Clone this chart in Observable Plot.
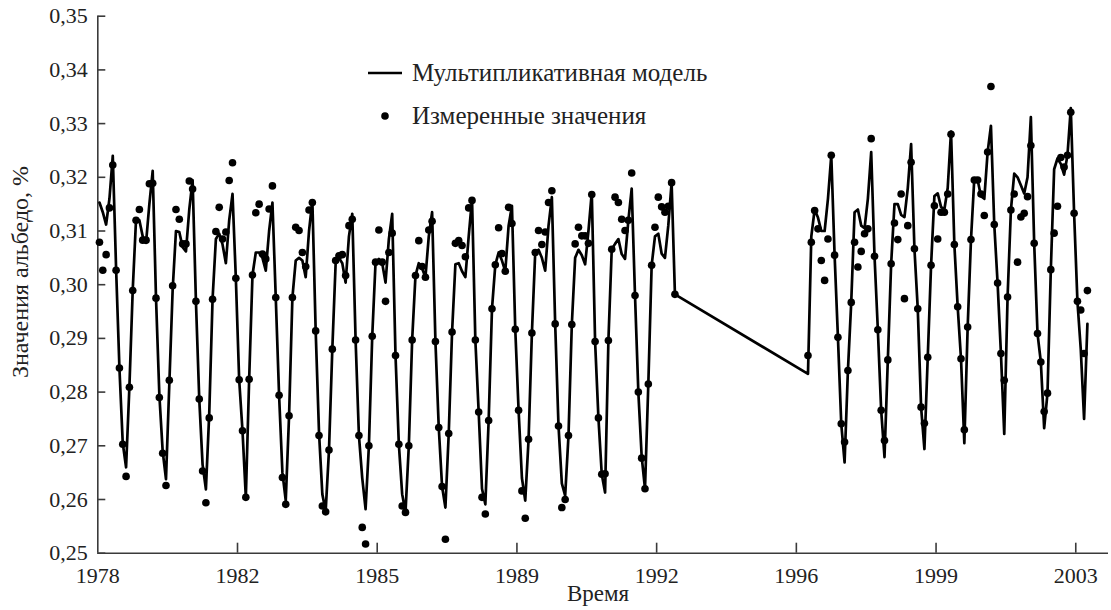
<!DOCTYPE html>
<html>
<head>
<meta charset="utf-8">
<script src="https://cdn.jsdelivr.net/npm/d3@7"></script>
<script src="https://cdn.jsdelivr.net/npm/@observablehq/plot@0.6"></script>
<style>
  html, body { margin: 0; padding: 0; background: #fff; }
  #wrap { position: relative; width: 1111px; height: 610px; font-family: "Liberation Serif", "Times New Roman", "DejaVu Serif", serif; color: #222; }
  #chart svg { display: block; }
  .lbl { position: absolute; white-space: nowrap; color: #222; }
  #ylabel { left: 20px; top: 272px; font-size: 24px; transform: translate(-50%, -50%) rotate(-90deg); }
  #xlabel { left: 598px; top: 594px; font-size: 23px; transform: translate(-50%, -50%); }
  .leg { position: absolute; left: 366px; display: flex; align-items: center; font-size: 25px; }
  .leg svg { margin-right: 8px; }
</style>
</head>
<body>
<div id="wrap">
  <div id="chart"></div>
  <div class="lbl" id="ylabel">Значения альбедо, %</div>
  <div class="lbl" id="xlabel">Время</div>
  <div class="leg" style="top:58px;">
    <svg width="38" height="30"><line x1="2" x2="36" y1="15" y2="15" stroke="#000" stroke-width="2.7"/></svg>
    <span>Мультипликативная модель</span>
  </div>
  <div class="leg" style="top:101px;">
    <svg width="38" height="30"><circle cx="19" cy="15" r="3.8" fill="#000"/></svg>
    <span>Измеренные значения</span>
  </div>
</div>
<script>
// ---- data (monthly, month index 0 = Jan 1978) ----
const startYear = 1978;
const period1StartMonth = 0;     // Jan 1978
const period2StartMonth = 213;   // Oct 1995

const measured1 = [
  0.3079, 0.3027, 0.3056, 0.3143, 0.3223, 0.3027, 0.2845, 0.2703, 0.2643, 0.2809, 0.2989, 0.3120,
  0.3140, 0.3083, 0.3083, 0.3188, 0.3189, 0.2975, 0.2790, 0.2686, 0.2626, 0.2822, 0.2998, 0.3140,
  0.3122, 0.3076, 0.3076, 0.3193, 0.3178, 0.2969, 0.2787, 0.2653, 0.2594, 0.2752, 0.2973, 0.3099,
  0.3144, 0.3085, 0.3098, 0.3194, 0.3227, 0.3012, 0.2823, 0.2728, 0.2604, 0.2824, 0.3018, 0.3134,
  0.3150, 0.3057, 0.3048, 0.3141, 0.3184, 0.2976, 0.2794, 0.2641, 0.2591, 0.2756, 0.2976, 0.3107,
  0.3101, 0.3060, 0.3034, 0.3139, 0.3153, 0.2914, 0.2719, 0.2588, 0.2577, 0.2692, 0.2880, 0.3045,
  0.3054, 0.3056, 0.3017, 0.3110, 0.3122, 0.2897, 0.2719, 0.2548, 0.2517, 0.2700, 0.2904, 0.3042,
  0.3102, 0.3042, 0.2969, 0.3060, 0.3096, 0.2868, 0.2703, 0.2588, 0.2576, 0.2700, 0.2897, 0.3017,
  0.3082, 0.3034, 0.3014, 0.3102, 0.3118, 0.2894, 0.2734, 0.2624, 0.2526, 0.2723, 0.2912, 0.3077,
  0.3082, 0.3073, 0.3052, 0.3143, 0.3157, 0.2897, 0.2763, 0.2604, 0.2573, 0.2747, 0.2955, 0.3037,
  0.3106, 0.3058, 0.3025, 0.3144, 0.3114, 0.2917, 0.2766, 0.2616, 0.2565, 0.2712, 0.2910, 0.3060,
  0.3101, 0.3075, 0.3098, 0.3153, 0.3175, 0.2927, 0.2737, 0.2585, 0.2600, 0.2719, 0.2926, 0.3076,
  0.3107, 0.3091, 0.3091, 0.3077, 0.3168, 0.2894, 0.2752, 0.2647, 0.2648, 0.2896, 0.3066, 0.3163,
  0.3153, 0.3122, 0.3101, 0.3120, 0.3208, 0.2980, 0.2800, 0.2677, 0.2620, 0.2815, 0.3036, 0.3107,
  0.3163, 0.3145, 0.3135, 0.3146, 0.3190, 0.2982
];

const model1 = [
  0.3153, 0.3135, 0.3112, 0.3160, 0.3240, 0.3030, 0.2845, 0.2705, 0.2660, 0.2810, 0.2990, 0.3122,
  0.3120, 0.3090, 0.3078, 0.3150, 0.3212, 0.2975, 0.2795, 0.2690, 0.2638, 0.2815, 0.2990, 0.3100,
  0.3098, 0.3070, 0.3062, 0.3140, 0.3195, 0.2969, 0.2787, 0.2665, 0.2619, 0.2760, 0.2973, 0.3085,
  0.3095, 0.3075, 0.3040, 0.3120, 0.3169, 0.3012, 0.2823, 0.2728, 0.2604, 0.2824, 0.3018, 0.3060,
  0.3060, 0.3050, 0.3026, 0.3100, 0.3153, 0.2976, 0.2794, 0.2650, 0.2598, 0.2756, 0.2976, 0.3045,
  0.3050, 0.3045, 0.3014, 0.3100, 0.3157, 0.2914, 0.2725, 0.2610, 0.2578, 0.2692, 0.2880, 0.3040,
  0.3050, 0.3040, 0.3004, 0.3090, 0.3132, 0.2897, 0.2719, 0.2640, 0.2582, 0.2700, 0.2904, 0.3042,
  0.3048, 0.3040, 0.3004, 0.3085, 0.3132, 0.2868, 0.2703, 0.2610, 0.2576, 0.2700, 0.2897, 0.3017,
  0.3040, 0.3030, 0.3014, 0.3090, 0.3135, 0.2894, 0.2734, 0.2624, 0.2585, 0.2723, 0.2912, 0.3038,
  0.3040, 0.3025, 0.3014, 0.3090, 0.3160, 0.2897, 0.2763, 0.2620, 0.2591, 0.2747, 0.2955, 0.3037,
  0.3060, 0.3045, 0.3025, 0.3110, 0.3147, 0.2917, 0.2766, 0.2640, 0.2598, 0.2712, 0.2910, 0.3060,
  0.3065, 0.3050, 0.3026, 0.3110, 0.3163, 0.2927, 0.2737, 0.2630, 0.2607, 0.2719, 0.2926, 0.3050,
  0.3065, 0.3055, 0.3038, 0.3100, 0.3172, 0.2894, 0.2752, 0.2647, 0.2613, 0.2896, 0.3066, 0.3076,
  0.3085, 0.3057, 0.3048, 0.3120, 0.3179, 0.2980, 0.2800, 0.2680, 0.2620, 0.2815, 0.3036, 0.3090,
  0.3095, 0.3058, 0.3050, 0.3110, 0.3190, 0.2982
];

const measured2 = [
  0.2868, 0.3079, 0.3138,
  0.3104, 0.3045, 0.3008, 0.3085, 0.3241, 0.3055, 0.2902, 0.2741, 0.2707, 0.2840, 0.2967, 0.3079,
  0.3033, 0.3062, 0.3095, 0.3104, 0.3272, 0.3053, 0.2916, 0.2766, 0.2710, 0.2860, 0.3039, 0.3115,
  0.3084, 0.3169, 0.2974, 0.3110, 0.3228, 0.3067, 0.2955, 0.2772, 0.2742, 0.2865, 0.3036, 0.3147,
  0.3085, 0.3135, 0.3135, 0.3169, 0.3280, 0.3075, 0.2959, 0.2862, 0.2730, 0.2921, 0.3084, 0.3195,
  0.3195, 0.3169, 0.3129, 0.3247, 0.3369, 0.3112, 0.3003, 0.2872, 0.2822, 0.2977, 0.3139, 0.3169,
  0.3042, 0.3126, 0.3133, 0.3164, 0.3259, 0.3077, 0.2909, 0.2856, 0.2764, 0.2798, 0.3028, 0.3096,
  0.3146, 0.3237, 0.3219, 0.3241, 0.3321, 0.3133, 0.2969, 0.2953, 0.2872, 0.2989
];

const model2 = [
  0.2834, 0.3090, 0.3140,
  0.3125, 0.3100, 0.3100, 0.3160, 0.3241, 0.3055, 0.2902, 0.2741, 0.2669, 0.2840, 0.2967, 0.3135,
  0.3140, 0.3110, 0.3105, 0.3160, 0.3247, 0.3053, 0.2916, 0.2766, 0.2679, 0.2860, 0.3039, 0.3150,
  0.3150, 0.3130, 0.3126, 0.3180, 0.3262, 0.3067, 0.2955, 0.2772, 0.2694, 0.2865, 0.3036, 0.3165,
  0.3170, 0.3145, 0.3140, 0.3180, 0.3285, 0.3075, 0.2959, 0.2862, 0.2705, 0.2921, 0.3084, 0.3198,
  0.3195, 0.3165, 0.3160, 0.3247, 0.3296, 0.3112, 0.3003, 0.2872, 0.2722, 0.2977, 0.3139, 0.3207,
  0.3200, 0.3185, 0.3170, 0.3200, 0.3312, 0.3077, 0.2909, 0.2856, 0.2733, 0.2798, 0.3028, 0.3215,
  0.3235, 0.3225, 0.3205, 0.3241, 0.3329, 0.3133, 0.2969, 0.2880, 0.2750, 0.2927
];

const yTicks = [0.25, 0.26, 0.27, 0.28, 0.29, 0.30, 0.31, 0.32, 0.33, 0.34, 0.35];
const xTickLabels = ["1978", "1982", "1985", "1989", "1992", "1996", "1999", "2003"];
const xTickStepYears = 3.5;   // ticks are 42 months apart

// ---- build tables ----
const monthToYear = t => startYear + (t + 0.5) / 12;
const measuredRows = [
  ...measured1.map((v, i) => ({year: monthToYear(period1StartMonth + i), value: v})),
  ...measured2.map((v, i) => ({year: monthToYear(period2StartMonth + i), value: v}))
];
const modelRows = [
  ...model1.map((v, i) => ({year: monthToYear(period1StartMonth + i), value: v})),
  ...model2.map((v, i) => ({year: monthToYear(period2StartMonth + i), value: v}))
];
const xTickValues = xTickLabels.map((_, i) => startYear + i * xTickStepYears);
const xLabelOf = new Map(xTickValues.map((v, i) => [v, xTickLabels[i]]));

const W = 1111, H = 610;
const mL = 97.3, mR = 3, mT = 15.7, mB = 57.3;
const innerW = W - mL - mR, innerH = H - mT - mB;
const axisColor = "#3a3a3a";
const serif = "'Liberation Serif', 'Times New Roman', 'DejaVu Serif', serif";

const chart = Plot.plot({
  width: W,
  height: H,
  marginLeft: mL,
  marginRight: mR,
  marginTop: mT,
  marginBottom: mB,
  style: {fontFamily: serif, fontSize: "22px", background: "#fff", color: "#222", overflow: "visible"},
  x: {domain: [1978, 2003.32]},
  y: {domain: [0.25, 0.35]},
  marks: [
    Plot.ruleX([1978], {stroke: axisColor, strokeWidth: 1.6}),
    Plot.ruleY([0.25], {stroke: axisColor, strokeWidth: 1.6}),
    Plot.tickY(yTicks, {y: d => d, insetRight: innerW - 8, stroke: axisColor, strokeWidth: 1.6}),
    Plot.tickX(xTickValues.slice(1), {x: d => d, insetTop: innerH - 10, stroke: axisColor, strokeWidth: 1.6}),
    Plot.axisY(yTicks, {tickSize: 0, tickPadding: 10, tickFormat: d => d.toFixed(2).replace(".", ","), fontSize: 22, fontFamily: serif, label: null}),
    Plot.axisX(xTickValues, {tickSize: 0, tickPadding: 14, tickFormat: d => xLabelOf.get(d), fontSize: 22, fontFamily: serif, label: null}),
    Plot.line(modelRows, {x: "year", y: "value", stroke: "#000", strokeWidth: 2.7, strokeLinejoin: "round", strokeLinecap: "round"}),
    Plot.dot(measuredRows, {x: "year", y: "value", r: 3.8, fill: "#000", stroke: "none"})
  ]
});
document.getElementById("chart").appendChild(chart);
</script>
</body>
</html>
